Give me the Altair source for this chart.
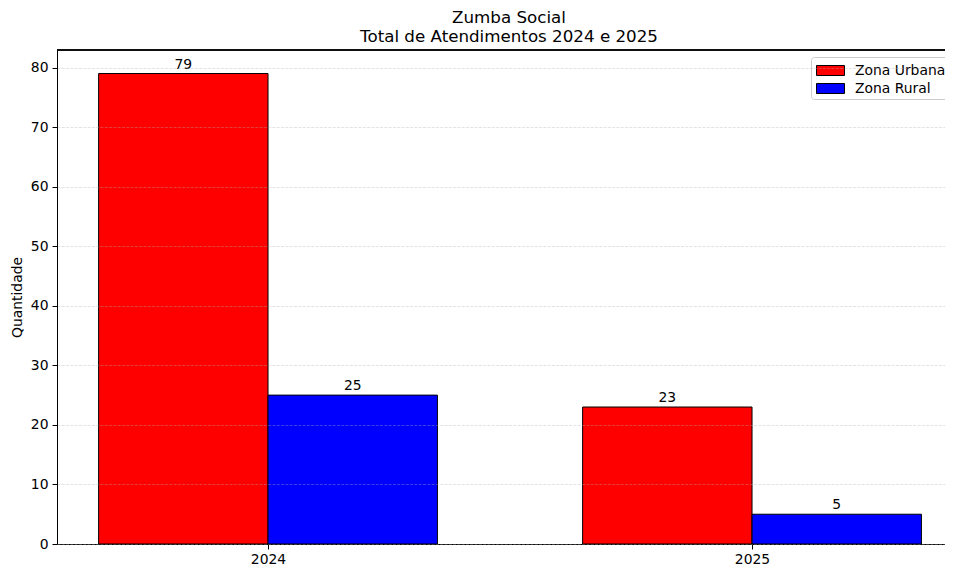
import altair as alt
import pandas as pd

years = [2024, 2025]
urbana = [79, 23]
rural = [25, 5]
series = ["Zona Urbana", "Zona Rural"]
colors = ["#ff0000", "#0000ff"]
y_ticks = [0, 10, 20, 30, 40, 50, 60, 70, 80]

rows = []
for i, y in enumerate(years):
    rows.append({"ano": y, "serie": series[0], "valor": urbana[i], "ordem": 0})
    rows.append({"ano": y, "serie": series[1], "valor": rural[i], "ordem": 1})
df = pd.DataFrame(rows)

FONT = "DejaVu Sans"
BW = 0.35
W = 888

x_scale = alt.Scale(domain=[2023.564, 2023.564 + W / 484], nice=False, zero=False)
y_scale = alt.Scale(domain=[0, 82.95], nice=False)

base = alt.Chart(df).transform_calculate(
    x0=f"datum.ano + (datum.ordem == 0 ? -{BW} : 0)",
    x1=f"datum.ano + (datum.ordem == 0 ? 0 : {BW})",
    xm=f"datum.ano + (datum.ordem == 0 ? -{BW/2} : {BW/2})",
)

bars = base.mark_bar(stroke="black", strokeWidth=1, clip=True).encode(
    x=alt.X("x0:Q", scale=x_scale,
            axis=alt.Axis(values=years, format="d", title=None, grid=False,
                          labelFont=FONT, labelFontSize=13.9, labelColor="black",
                          tickColor="black", tickSize=5, labelPadding=3,
                          domainColor="black", domainWidth=1)),
    x2="x1:Q",
    y=alt.Y("valor:Q", scale=y_scale,
            axis=alt.Axis(values=y_ticks, title="Quantidade", titleFont=FONT,
                          titleFontSize=13.9, titleFontWeight="normal", titleColor="black",
                          titlePadding=6,
                          labelFont=FONT, labelFontSize=13.9, labelColor="black",
                          tickColor="black", tickSize=5, labelPadding=4,
                          domainColor="black", domainWidth=1,
                          grid=True, gridColor="#b0b0b0", gridOpacity=0.35,
                          gridDash=[3, 1.3], gridWidth=1, zindex=1)),
    y2=alt.datum(0),
    color=alt.Color("serie:N", scale=alt.Scale(domain=series, range=colors),
                    legend=alt.Legend(orient="none", legendX=754, legendY=7, title=None,
                                      symbolType="M-1.4,-0.5H1.4V0.5H-1.4Z",
                                      symbolSize=400, symbolStrokeColor="black",
                                      symbolStrokeWidth=1, symbolOffset=6,
                                      labelOffset=14, labelFont=FONT, labelFontSize=13.9,
                                      labelColor="black", padding=3, rowPadding=0,
                                      strokeColor="#cccccc", fillColor="rgba(255,255,255,0.8)",
                                      cornerRadius=3)),
)

labels = base.mark_text(font=FONT, fontSize=13.9, color="black", baseline="alphabetic",
                        dy=-5).encode(
    x=alt.X("xm:Q", scale=x_scale),
    y=alt.Y("valor:Q", scale=y_scale),
    text="valor:Q",
)

top_spine = alt.Chart(df).mark_rule(color="black", strokeWidth=1).encode(
    x=alt.value(0), x2=alt.value(W), y=alt.value(0)
)

chart = alt.layer(bars, labels, top_spine).properties(
    width=W, height=494,
    padding={"left": 49, "top": 42, "right": 0, "bottom": 24},
    autosize=alt.AutoSizeParams(type="none"),
    title=alt.Title(["Zumba Social", "Total de Atendimentos 2024 e 2025"],
                    font=FONT, fontSize=16.7, fontWeight="normal", color="black",
                    anchor="middle", offset=4, lineHeight=19, dx=8),
).configure_view(stroke=None)

chart.save("out.html", embed_options={"renderer": "svg", "actions": False})
